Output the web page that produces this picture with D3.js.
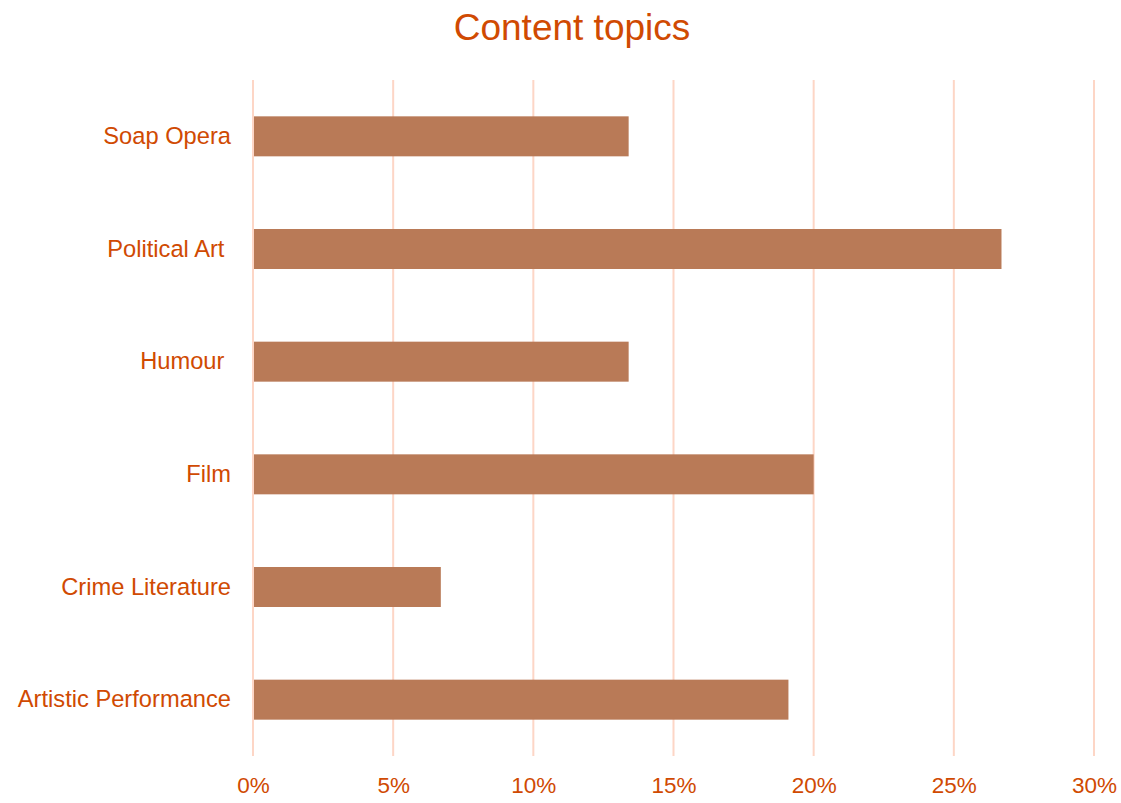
<!DOCTYPE html>
<html>
<head>
<meta charset="utf-8">
<script src="https://cdn.jsdelivr.net/npm/d3@7"></script>
<style>
  html, body { margin: 0; padding: 0; background: #ffffff; }
  svg { display: block; }
  .ylab text { white-space: pre; }
</style>
</head>
<body>
<svg id="chart" width="1121" height="803"></svg>
<script>
const categories = ["Soap Opera", "Political Art ", "Humour ", "Film", "Crime Literature", "Artistic Performance"];
const values = [13.4, 26.7, 13.4, 20.0, 6.7, 19.1];
const tickValues = [0, 5, 10, 15, 20, 25, 30];
const titleText = "Content topics";

const W = 1121, H = 803;
const margin = { top: 80, right: 27, bottom: 47, left: 253 };
const svg = d3.select("#chart");
const textColor = "#D04A02";
const barColor = "#B97A57";
const gridColor = "#FDD6C6";
const fontFam = "'Liberation Sans', Arial, sans-serif";

const x = d3.scaleLinear().domain([0, 30]).range([margin.left, W - margin.right]);
const y = d3.scaleBand().domain(categories).range([margin.top, H - margin.bottom]).paddingInner(0.645).paddingOuter(0.3225);

// gridlines
svg.append("g").selectAll("line").data(tickValues).join("line")
  .attr("x1", d => x(d)).attr("x2", d => x(d))
  .attr("y1", margin.top).attr("y2", H - margin.bottom)
  .attr("stroke", gridColor).attr("stroke-width", 2);

// bars
svg.append("g").selectAll("rect").data(categories).join("rect")
  .attr("x", x(0) + 1)
  .attr("y", d => y(d))
  .attr("width", (d, i) => x(values[i]) - x(0) - 1)
  .attr("height", y.bandwidth())
  .attr("fill", barColor);

// x axis
const xAxis = d3.axisBottom(x).tickValues(tickValues).tickFormat(d => d + "%").tickSize(0).tickPadding(0);
const gx = svg.append("g").attr("transform", `translate(0, ${H - margin.bottom})`).call(xAxis);
gx.select(".domain").remove();
gx.selectAll("text").attr("fill", textColor).attr("font-size", "22.5px").attr("font-family", fontFam)
  .attr("dy", null).attr("y", 37);

// y axis
const yAxis = d3.axisLeft(y).tickSize(0).tickPadding(22);
const gy = svg.append("g").attr("class", "ylab").attr("transform", `translate(${margin.left}, 0)`).call(yAxis);
gy.select(".domain").remove();
gy.selectAll("text").attr("fill", textColor).attr("font-size", "23.7px").attr("font-family", fontFam);

// title
svg.append("text").attr("x", 572).attr("y", 40).attr("text-anchor", "middle")
  .attr("fill", textColor).attr("font-size", "37px").attr("font-family", fontFam)
  .text(titleText);
</script>
</body>
</html>
